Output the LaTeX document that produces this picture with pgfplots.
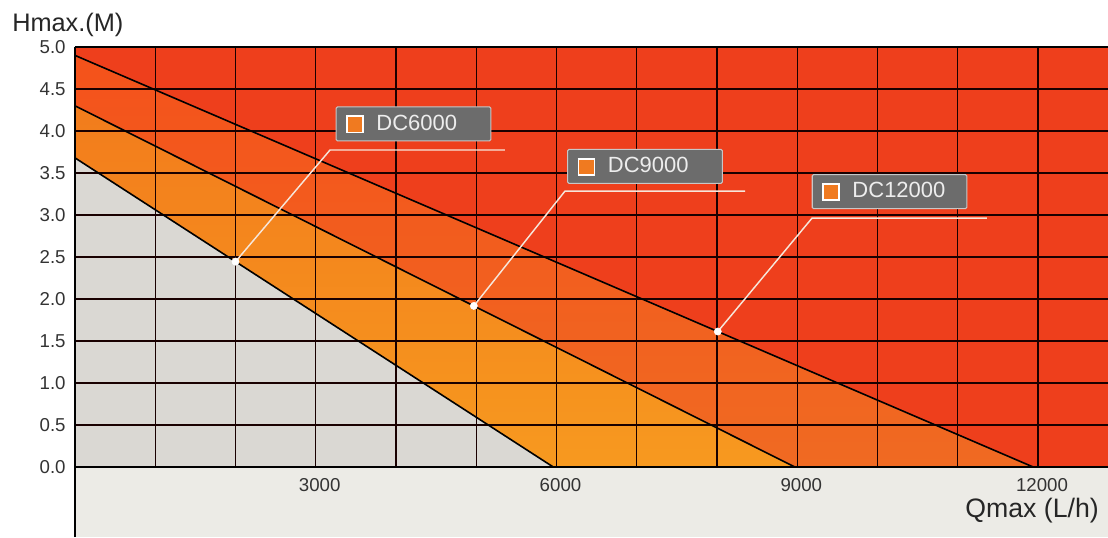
\documentclass[border=0pt]{standalone}
\usepackage{fontspec}
\setmainfont{Liberation Sans}
\usepackage{pgfplots}
\pgfplotsset{compat=1.18}
\usetikzlibrary{calc}

\definecolor{bgred}{HTML}{EE3F1C}
\definecolor{bandtop}{HTML}{F4521B}
\definecolor{bandbot}{HTML}{F06A22}
\definecolor{orgtop}{HTML}{F27C1C}
\definecolor{orgbot}{HTML}{F7991F}
\definecolor{grayzone}{HTML}{DAD8D3}
\definecolor{floorgray}{HTML}{ECEBE6}
\definecolor{boxgray}{HTML}{6C6C6C}
\definecolor{sqorange}{HTML}{F07A20}
\definecolor{leader}{HTML}{F6E6DA}

\tikzset{gridl/.style={black!90!red, line width=0.9pt}}

% label box: x, y (axis cs), text
\newcommand{\lbox}[3]{%
  \node[draw=black!22, line width=0.8pt, fill=boxgray, rounded corners=1pt,
        text width=116pt, minimum height=25.5pt, inner sep=0pt,
        text=black!7, font=\fontsize{16.5}{16.5}\selectfont]
    at (axis cs:#1,#2)
    {\hspace*{7.5pt}{\setlength{\fboxsep}{0pt}\setlength{\fboxrule}{1.1pt}%
      \raisebox{-1.2pt}{\fcolorbox{white}{sqorange}{\rule{11pt}{0pt}\rule{0pt}{11pt}}}}%
     \hspace{9.5pt}#3};
}

\begin{document}
\begin{tikzpicture}
\begin{axis}[
  scale only axis, width=774.75pt, height=367.5pt,
  xmin=0, xmax=12872, ymin=-0.833, ymax=5,
  clip=false, axis on top,
  axis line style={draw=none},
  major tick length=0pt,
  scaled x ticks=false,
  xtick={3000,6000,9000,12000},
  xticklabels={3000,6000,9000,12000},
  ytick={0,0.5,1,1.5,2,2.5,3,3.5,4,4.5,5},
  yticklabels={0.0,0.5,1.0,1.5,2.0,2.5,3.0,3.5,4.0,4.5,5.0},
  tick label style={font=\fontsize{14}{14}\selectfont, text=black!80},
  xticklabel style={anchor=center, yshift=39pt, xshift=3pt},
  yticklabel style={xshift=-3.5pt},
]
% zones
\addplot[draw=none, fill=floorgray] coordinates {(0,-0.833) (12872,-0.833) (12872,0) (0,0)} -- cycle;
\addplot[draw=none, fill=bgred] coordinates {(0,0) (0,5) (12872,5) (12872,0)} -- cycle;
\addplot[draw=none, top color=bandtop, bottom color=bandbot] coordinates {(0,4.90) (11940,0) (8970,0) (0,4.30)} -- cycle;
\addplot[draw=none, top color=orgtop, bottom color=orgbot] coordinates {(0,4.30) (8970,0) (5960,0) (0,3.68)} -- cycle;
\addplot[draw=none, fill=grayzone] coordinates {(0,3.68) (5960,0) (0,0)} -- cycle;

% grid
\pgfplotsinvokeforeach{1000,2000,3000,4000,5000,6000,7000,8000,9000,10000,11000,12000}{
  \draw[gridl] (axis cs:#1,0) -- (axis cs:#1,5);}
\pgfplotsinvokeforeach{0.5,1,1.5,2,2.5,3,3.5,4,4.5}{
  \draw[gridl] (axis cs:0,#1) -- (axis cs:12872,#1);}
\draw[black, line width=1.1pt] (axis cs:0,5) -- (axis cs:12872,5);
\draw[black, line width=1.4pt] (axis cs:0,0) -- (axis cs:12872,0);
\draw[black, line width=1.4pt] (axis cs:0,-0.833) -- (axis cs:0,5);

% pump curves
\addplot[black, line width=1.2pt] coordinates {(0,3.68) (5960,0)};
\addplot[black, line width=1.2pt] coordinates {(0,4.30) (8970,0)};
\addplot[black, line width=1.2pt] coordinates {(0,4.90) (11940,0)};

% leaders
\addplot[leader, line width=1.1pt] coordinates {(2000,2.445) (3178,3.774) (5358,3.774)};
\addplot[leader, line width=1.1pt] coordinates {(4970,1.918) (6106,3.285) (8349,3.285)};
\addplot[leader, line width=1.1pt] coordinates {(8010,1.613) (9184,2.963) (11364,2.963)};
\addplot[only marks, mark=*, mark size=2.7pt, mark options={fill=white, draw=white}]
  coordinates {(2000,2.445) (4970,1.918) (8010,1.613)};

\lbox{4218}{4.085}{DC6000}
\lbox{7103}{3.578}{DC9000}
\lbox{10150}{3.279}{DC12000}

\node[anchor=base west, inner sep=0pt, text=black!85, font=\fontsize{19}{19}\selectfont]
  at ($(rel axis cs:0,1)+(-47.25pt,11.25pt)$) {Hmax.(M)};
\node[anchor=east, inner sep=0pt, text=black!85, font=\fontsize{20}{20}\selectfont]
  at ($(rel axis cs:1,0)+(-6.75pt,19.5pt)$) {Qmax (L/h)};
\end{axis}
\pgfresetboundingbox
\path (-56.25pt,0) rectangle (774.75pt,402.75pt);
\end{tikzpicture}
\end{document}
